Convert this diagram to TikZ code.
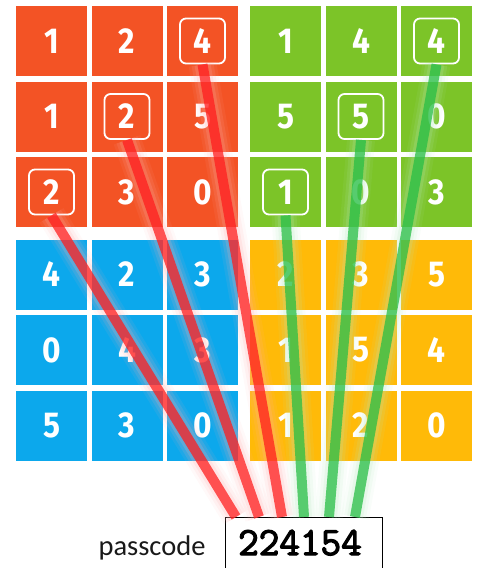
\documentclass[tikz,border=0pt]{standalone}
\usepackage{fontspec}
\newfontfamily\cellfont{Fira Sans}[Numbers=Lining, FakeStretch=0.88]
\newfontfamily\labelfont{Carlito}
\newfontfamily\codefont{Latin Modern Mono}[AutoFakeBold=3]
\definecolor{cOrange}{RGB}{243,83,37}
\definecolor{cGreen}{RGB}{124,196,40}
\definecolor{cBlue}{RGB}{12,168,236}
\definecolor{cYellow}{RGB}{255,186,8}
\definecolor{lineRed}{RGB}{255,30,30}
\definecolor{lineGreen}{RGB}{40,190,70}
\begin{document}
\begin{tikzpicture}[x=1pt,y=-1pt,
  cell/.style={rectangle, fill=#1, minimum width=71pt, minimum height=70pt, inner sep=0pt,
    text=white, font=\cellfont\bfseries\fontsize{36}{36}\selectfont},
  hl/.style={rectangle, draw=white, line width=1.8pt, rounded corners=6pt,
    minimum width=45pt, minimum height=45pt, inner sep=0pt},
  glow/.style={
    preaction={draw=#1!35!white, line width=28pt, draw opacity=0.08},
    preaction={draw=#1!35!white, line width=22pt, draw opacity=0.12},
    preaction={draw=#1!35!white, line width=16pt, draw opacity=0.18},
    draw=#1, line width=10pt, draw opacity=0.75},
  codebox/.style={rectangle, draw=black, line width=1.3pt, minimum width=157pt,
    minimum height=70pt, inner sep=0pt, anchor=north west}
]
\useasboundingbox (0,0) rectangle (478,568);
% grids
\foreach \name/\col/\xs/\ys/\digits in {
  o/cOrange/0/0/{1,2,4,1,2,5,2,3,0},
  g/cGreen/234/0/{1,4,4,5,5,0,1,0,3},
  b/cBlue/0/233.5/{4,2,3,0,4,3,5,3,0},
  y/cYellow/234/233.5/{2,3,5,1,5,4,1,2,0}}{
  \foreach \d [count=\i from 0] in \digits {
    \pgfmathtruncatemacro\r{int(\i/3)}
    \pgfmathtruncatemacro\c{mod(\i,3)}
    \node[cell=\col] (\name-\r-\c) at ({51.5+\xs+75.5*\c},{41+\ys+75.5*\r}) {\d};
  }
}
% highlight frames
\node[hl] (h1) at (o-2-0) {};
\node[hl] (h2) at (o-1-1) {};
\node[hl] (h3) at (o-0-2) {};
\node[hl] (h4) at (g-2-0) {};
\node[hl] (h5) at (g-1-1) {};
\node[hl] (h6) at (g-0-2) {};
% passcode
\node[codebox] (code) at (225,517) {};
\node[anchor=base, font=\codefont\bfseries\fontsize{40}{40}\selectfont] (digits) at (300,555) {224154};
\node[anchor=base east, font=\labelfont\fontsize{28.5}{28.5}\selectfont, text=black!90] (lbl) at (209,555) {passcode};
% connector ends
\coordinate (e1) at (236,517);
\coordinate (e2) at (259,517);
\coordinate (e3) at (282,517);
\coordinate (e4) at (304,517);
\coordinate (e5) at (329,517);
\coordinate (e6) at (355,517);
% lines
\draw[glow=lineRed] (h1.south) -- (e1);
\draw[glow=lineRed] (h2.south) -- (e2);
\draw[glow=lineRed] (h3.south) -- (e3);
\draw[glow=lineGreen] (h4.south) -- (e4);
\draw[glow=lineGreen] (h5.south) -- (e5);
\draw[glow=lineGreen] (h6.south) -- (e6);
\end{tikzpicture}
\end{document}
